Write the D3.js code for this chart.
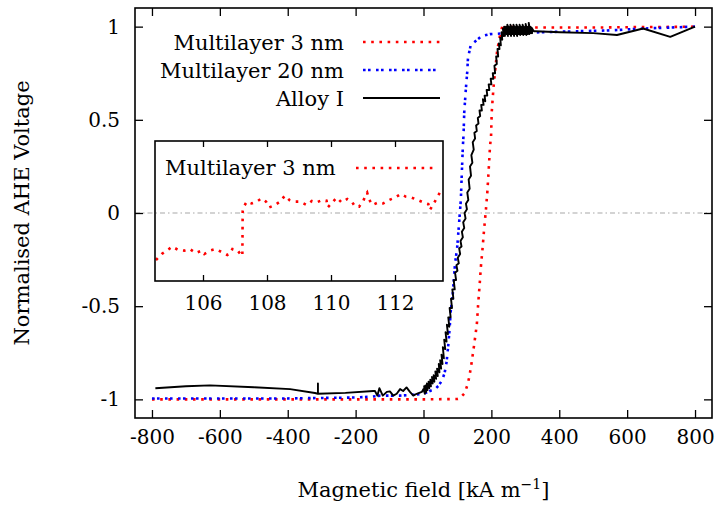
<!DOCTYPE html>
<html>
<head>
<meta charset="utf-8">
<script src="https://cdn.jsdelivr.net/npm/d3@7"></script>
<style>
  html, body { margin: 0; padding: 0; background: #fff; }
  svg { display: block; }
  text { font-family: "DejaVu Serif", "Liberation Serif", serif; fill: #000; }
</style>
</head>
<body>
<svg id="chart" width="718" height="505"></svg>
<script>
// ---------- DATA ----------
const xTicks = [-800, -600, -400, -200, 0, 200, 400, 600, 800];
const yTicks = [-1, -0.5, 0, 0.5, 1];
const insetTicks = [106, 108, 110, 112];
const seriesNames = ["Multilayer 3 nm", "Multilayer 20 nm", "Alloy I"];

// Multilayer 3 nm : [field kA/m, normalised voltage]
const multilayer3 = [
  [-800,-1],[-600,-1],[-400,-1],[-200,-1],[0,-1],[100,-0.998],[107,-0.995],[122,-0.965],
  [129,-0.925],[135,-0.88],[142,-0.80],[149,-0.71],[157,-0.60],[161,-0.49],[166,-0.37],
  [169,-0.29],[174,-0.19],[178,-0.10],[184,0.02],[188,0.11],[193,0.26],[196,0.36],
  [199,0.41],[201,0.54],[206,0.67],[211,0.76],[217,0.87],[223,0.93],[226,0.96],[228,0.94],
  [230,0.985],[233,1.01],[236,0.99],[240,1.0],[300,0.995],[400,0.995],[500,0.995],
  [600,0.997],[700,0.998],[800,1.0]
];

// Multilayer 20 nm
const multilayer20 = [
  [-800,-0.995],[-600,-0.995],[-400,-0.995],[-200,-0.99],[-150,-0.985],[-128,-0.98],
  [-100,-0.98],[-70,-0.98],[-30,-0.975],[0,-0.97],[19,-0.955],[34,-0.945],[45,-0.925],
  [54,-0.90],[62,-0.86],[68,-0.80],[73,-0.71],[77,-0.62],[80,-0.53],[86,-0.44],[93,-0.27],
  [99,-0.19],[105,-0.05],[110,0.07],[113,0.22],[116,0.36],[118,0.42],[120,0.54],[125,0.67],
  [129,0.76],[131,0.83],[139,0.90],[152,0.92],[172,0.95],[196,0.96],[250,0.965],
  [350,0.97],[450,0.975],[550,0.98],[650,0.99],[800,1.0]
];

// Alloy I (noisy sweep)
const alloy = [
  [-790,-0.94],[-700,-0.93],[-629,-0.925],[-500,-0.935],[-393,-0.945],[-320,-0.966],
  [-311,-0.97],[-311,-0.915],[-311,-0.97],[-230,-0.965],[-148,-0.955],[-143,-0.955],
  [-136,-0.98],[-130,-0.94],[-120,-0.98],[-108,-0.96],[-99,-0.957],[-89,-0.98],[-79,-0.97],
  [-69,-0.945],[-60,-0.955],[-50,-0.936],[-40,-0.96],[-30,-0.98],[-20,-0.97],[-5,-0.96],
  [0,-0.945],[4,-0.97],[2,-0.93],[8,-0.96],[6,-0.925],[12,-0.95],[10,-0.915],[17,-0.94],
  [15,-0.905],[22,-0.93],[20,-0.895],[27,-0.915],[25,-0.88],[32,-0.905],[30,-0.87],
  [37,-0.89],[35,-0.85],[42,-0.875],[40,-0.835],[47,-0.855],[45,-0.81],[52,-0.835],
  [49,-0.79],[56,-0.81],[53,-0.76],[60,-0.78],[57,-0.72],[64,-0.73],[61,-0.68],[68,-0.69],
  [65,-0.64],[72,-0.65],[69,-0.60],[76,-0.61],[73,-0.56],[80,-0.56],[77,-0.51],[84,-0.51],
  [81,-0.46],[88,-0.46],[85,-0.41],[92,-0.41],[89,-0.36],[96,-0.36],[93,-0.32],[100,-0.31],
  [97,-0.28],[104,-0.27],[101,-0.24],[108,-0.22],[105,-0.19],[112,-0.18],[109,-0.15],
  [116,-0.13],[113,-0.10],[120,-0.08],[117,-0.05],[124,-0.03],[121,0.0],[128,0.02],
  [125,0.05],[132,0.07],[129,0.11],[136,0.13],[133,0.18],[140,0.20],[137,0.25],[144,0.27],
  [141,0.31],[148,0.34],[145,0.38],[152,0.40],[150,0.43],[157,0.44],[155,0.47],[162,0.48],
  [160,0.51],[167,0.52],[165,0.55],[172,0.55],[170,0.58],[177,0.58],[175,0.61],[182,0.60],
  [180,0.63],[188,0.63],[186,0.66],[194,0.66],[192,0.69],[200,0.69],[198,0.72],[206,0.72],
  [204,0.75],[211,0.75],[209,0.79],[216,0.80],[214,0.84],[220,0.84],[218,0.88],[224,0.88],
  [222,0.91],[228,0.90],[226,0.94],[232,0.93],[230,0.97],[236,0.95],[234,0.99],[240,0.95],
  [238,1.0],[245,0.96],[243,1.0],[249,0.95],[247,1.01],[253,0.96],[251,1.0],[258,0.95],
  [256,1.01],[262,0.96],[260,1.0],[267,0.95],[265,1.01],[271,0.96],[269,1.0],[276,0.95],
  [274,1.01],[280,0.96],[278,1.0],[285,0.955],[283,1.01],[289,0.96],[287,1.0],[294,0.955],
  [292,1.01],[298,0.96],[296,1.0],[303,0.955],[301,1.015],[307,0.96],[305,1.0],[312,0.96],
  [310,1.02],[316,0.965],[314,1.0],[320,0.965],[318,0.995],[325,0.975],[330,0.975],
  [402,0.97],[500,0.965],[570,0.955],[647,0.99],[727,0.945],[800,1.0]
];

// Inset: Multilayer 3 nm close-up
const insetData = [
  [104.53,-0.245],[104.71,-0.215],[104.87,-0.198],[105.04,-0.178],[105.23,-0.195],
  [105.42,-0.198],[105.59,-0.19],[105.77,-0.21],[105.96,-0.198],[106.04,-0.215],
  [106.22,-0.198],[106.40,-0.19],[106.58,-0.205],[106.76,-0.22],[106.84,-0.215],
  [106.92,-0.19],[107.07,-0.195],[107.19,-0.22],[107.23,-0.225],[107.24,0.0],
  [107.26,0.018],[107.37,0.047],[107.52,0.038],[107.68,0.047],[107.83,0.063],
  [107.97,0.047],[108.07,0.018],[108.25,0.03],[108.41,0.047],[108.56,0.077],
  [108.70,0.055],[108.875,0.047],[109.03,0.047],[109.24,0.03],[109.40,0.05],
  [109.55,0.043],[109.73,0.055],[109.86,0.052],[109.90,0.018],[110.04,0.043],
  [110.18,0.067],[110.33,0.043],[110.51,0.06],[110.65,0.047],[110.75,0.022],
  [110.88,0.022],[111.01,0.05],[111.08,0.08],[111.13,0.092],[111.19,0.058],
  [111.29,0.03],[111.48,0.043],[111.63,0.038],[111.82,0.055],[112.0,0.067],
  [112.18,0.085],[112.33,0.072],[112.52,0.067],[112.71,0.055],[112.88,0.043],
  [113.04,0.035],[113.09,0.005],[113.23,0.043],[113.33,0.072],[113.43,0.10]
];

// ---------- CHART ----------
const svg = d3.select("#chart");
const X0 = 135, X1 = 712, Y0 = 8, Y1 = 418;

const x = d3.scaleLinear().domain([-850, 850]).range([X0, X1]);
const y = d3.scaleLinear().domain([-1.1, 1.1]).range([Y1, Y0]);

const styles = [
  { color: "#ff0000", dash: "2.6,5.6", width: 2.6 },
  { color: "#0000ff", dash: "2.6,2.4,2.6,5.4", width: 2.6 },
  { color: "#000000", dash: null, width: 1.9 }
];

// zero axis
svg.append("line")
  .attr("x1", X0).attr("x2", X1).attr("y1", y(0)).attr("y2", y(0))
  .attr("stroke", "#a8a8a8").attr("stroke-width", 1.2)
  .attr("stroke-dasharray", "5,3,1.5,3");

// axes (inward ticks, mirrored)
const tickLen = 8;
const fmt = d => d < 0 ? "-" + Math.abs(d) : String(d);
const axB = svg.append("g").attr("transform", `translate(0,${Y1})`)
  .call(d3.axisBottom(x).tickValues(xTicks).tickSize(-tickLen).tickPadding(12).tickFormat(fmt));
const axT = svg.append("g").attr("transform", `translate(0,${Y0})`)
  .call(d3.axisTop(x).tickValues(xTicks).tickSize(-tickLen).tickFormat(""));
const axL = svg.append("g").attr("transform", `translate(${X0},0)`)
  .call(d3.axisLeft(y).tickValues(yTicks).tickSize(-tickLen).tickPadding(15).tickFormat(fmt));
const axR = svg.append("g").attr("transform", `translate(${X1},0)`)
  .call(d3.axisRight(y).tickValues(yTicks).tickSize(-tickLen).tickFormat(""));

[axB, axT, axL, axR].forEach(a => {
  a.select(".domain").remove();
  a.selectAll(".tick line").attr("stroke", "#000").attr("stroke-width", 1.3);
  a.selectAll(".tick text").attr("font-family", "DejaVu Serif").attr("font-size", 20).attr("fill", "#000");
});

// curves
const line = d3.line().x(d => x(d[0])).y(d => y(d[1]));
[multilayer3, multilayer20, alloy].forEach((data, i) => {
  const s = styles[i];
  svg.append("path").datum(data)
    .attr("d", line)
    .attr("fill", "none")
    .attr("stroke", s.color)
    .attr("stroke-width", s.width)
    .attr("stroke-linejoin", "round")
    .attr("stroke-dasharray", s.dash);
});

// frame
svg.append("rect").attr("x", X0).attr("y", Y0).attr("width", X1 - X0).attr("height", Y1 - Y0)
  .attr("fill", "none").attr("stroke", "#000").attr("stroke-width", 1.6);

// legend
const legend = svg.append("g");
seriesNames.forEach((name, i) => {
  const yy = 42 + i * 28;
  legend.append("text").attr("x", 344).attr("y", yy + 7.5)
    .attr("text-anchor", "end").attr("font-size", 21).text(name);
  legend.append("line").attr("x1", 363).attr("x2", 440).attr("y1", yy).attr("y2", yy)
    .attr("stroke", styles[i].color).attr("stroke-width", styles[i].width)
    .attr("stroke-dasharray", styles[i].dash);
});

// axis titles
svg.append("text")
  .attr("transform", `translate(29,${(Y0 + Y1) / 2}) rotate(-90)`)
  .attr("text-anchor", "middle").attr("font-size", 21)
  .text("Normalised AHE Voltage");

const xt = svg.append("text").attr("x", x(0)).attr("y", 497)
  .attr("text-anchor", "middle").attr("font-size", 21);
xt.append("tspan").text("Magnetic field [kA m");
xt.append("tspan").attr("dy", -8).attr("font-size", 14).text("−1");
xt.append("tspan").attr("dy", 8).text("]");

// ---------- INSET ----------
const IX0 = 155, IX1 = 443, IY0 = 141, IY1 = 281;
const xi = d3.scaleLinear().domain([104.5, 113.5]).range([IX0, IX1]);
const yi = d3.scaleLinear().domain([-0.35, 0.35]).range([IY1, IY0]);

const iB = svg.append("g").attr("transform", `translate(0,${IY1})`)
  .call(d3.axisBottom(xi).tickValues(insetTicks).tickSize(-6).tickPadding(15).tickFormat(d3.format("d")));
const iT = svg.append("g").attr("transform", `translate(0,${IY0})`)
  .call(d3.axisTop(xi).tickValues(insetTicks).tickSize(-6).tickFormat(""));
[iB, iT].forEach(a => {
  a.select(".domain").remove();
  a.selectAll(".tick line").attr("stroke", "#000").attr("stroke-width", 1.3);
  a.selectAll(".tick text").attr("font-family", "DejaVu Serif").attr("font-size", 20).attr("fill", "#000");
});

svg.append("path").datum(insetData)
  .attr("d", d3.line().x(d => xi(d[0])).y(d => yi(d[1])))
  .attr("fill", "none").attr("stroke", styles[0].color).attr("stroke-width", styles[0].width)
  .attr("stroke-dasharray", styles[0].dash);

svg.append("rect").attr("x", IX0).attr("y", IY0).attr("width", IX1 - IX0).attr("height", IY1 - IY0)
  .attr("fill", "none").attr("stroke", "#000").attr("stroke-width", 1.6);

svg.append("text").attr("x", 165).attr("y", 175).attr("font-size", 21).text(seriesNames[0]);
svg.append("line").attr("x1", 356).attr("x2", 433).attr("y1", 168).attr("y2", 168)
  .attr("stroke", styles[0].color).attr("stroke-width", styles[0].width)
  .attr("stroke-dasharray", styles[0].dash);
</script>
</body>
</html>
